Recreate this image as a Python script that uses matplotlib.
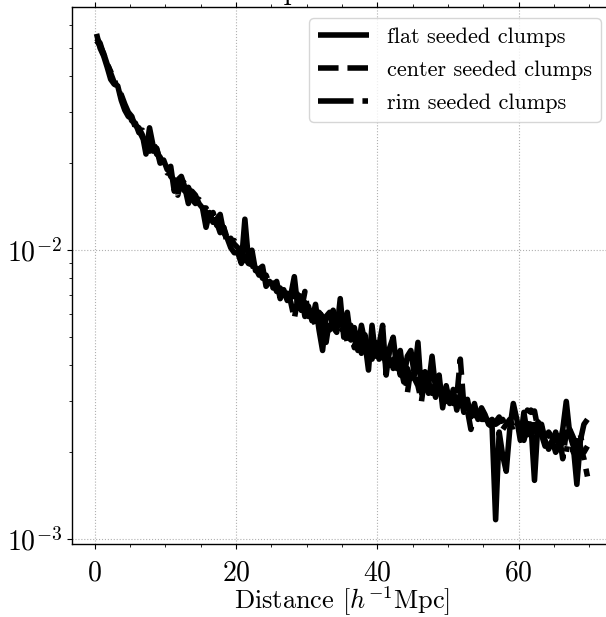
import numpy as np
import matplotlib
matplotlib.use("Agg")
import matplotlib.pyplot as plt

plt.rcParams['font.family'] = 'serif'
plt.rcParams['font.serif'] = ['cmr10', 'DejaVu Serif']
plt.rcParams['mathtext.fontset'] = 'cm'
plt.rcParams['axes.formatter.use_mathtext'] = True
plt.rcParams['font.size'] = 18
plt.rcParams['axes.linewidth'] = 1.0

# bin centres, 0.5 h^-1 Mpc bins from 0 to 70
distance = np.arange(0.25, 70.0, 0.5)

# values, in units of 1e-3
flat = np.array([
    56, 50, 47, 43, 39, 37.5, 37, 33, 30.5, 29,
    28.5, 27, 26.5, 25, 21.5, 26.5, 23, 22.5, 20, 20.5,
    19, 19.5, 16, 17.5, 18, 16.5, 14.5, 16, 15.5, 14.5,
    14, 12, 13.5, 12.5, 12.8, 13.3, 11.5, 11, 10.2, 9.8,
    9.8, 9.0, 12.8, 9.3, 10, 8.5, 8.6, 8.8, 7.5, 7.8,
    7.5, 7.8, 6.8, 7.3, 6.7, 7.0, 8.1, 6.3, 6.9, 5.9,
    6.4, 5.7, 6.5, 5.3, 4.5, 5.9, 6.1, 5.4, 5.2, 6.8,
    5.0, 6.1, 4.9, 5.4, 4.5, 5.5, 4.8, 3.85, 5.5, 4.3,
    4.7, 5.5, 3.7, 4.6, 5.0, 3.9, 4.5, 3.6, 4.3, 4.5,
    3.7, 4.8, 3.2, 3.8, 3.4, 4.3, 3.3, 3.7, 2.85, 3.4,
    2.95, 3.3, 2.8, 3.2, 2.75, 3.05, 2.65, 2.95, 2.6, 2.85,
    2.7, 2.5, 2.45, 1.17, 2.35, 1.95, 1.72, 2.4, 2.95, 2.6,
    2.2, 2.75, 2.3, 2.5, 1.6, 2.55, 2.45, 2.2, 2.05, 2.2,
    2.0, 2.1, 2.4, 3.0, 2.3, 2.1, 1.55, 2.2, 2.5, 2.6,
]) * 1e-3

center = np.array([
    54, 52, 47.5, 44.5, 41, 38, 36.5, 34, 31, 29.5,
    28, 27.5, 25.5, 26, 24, 22, 24, 21.5, 21, 19.5,
    19.5, 18, 17.5, 15.5, 17.5, 17, 16, 15, 14.5, 15,
    14.5, 13.5, 13, 13.5, 12.2, 12, 12, 10.5, 11, 10.5,
    10.2, 9.6, 9.2, 9.6, 9.0, 8.3, 8.6, 8.0, 8.2, 7.6,
    7.7, 7.2, 7.4, 6.9, 7.1, 6.6, 5.8, 6.8, 6.2, 7.2,
    5.9, 6.4, 5.7, 6.3, 5.5, 4.8, 5.8, 6.2, 5.4, 5.6,
    5.6, 4.8, 5.5, 4.6, 5.3, 4.4, 5.1, 4.4, 4.2, 4.8,
    4.2, 4.6, 4.0, 4.5, 3.9, 4.3, 3.7, 4.1, 3.2, 3.9,
    3.6, 3.4, 3.0, 3.7, 3.2, 3.5, 3.1, 3.5, 3.0, 3.3,
    3.1, 2.95, 3.1, 4.2, 2.9, 2.8, 2.4, 2.7, 2.75, 2.6,
    2.6, 2.7, 2.5, 2.55, 2.65, 2.4, 2.5, 2.6, 2.45, 2.55,
    2.5, 2.35, 2.8, 2.75, 2.78, 2.4, 2.3, 2.1, 2.35, 2.25,
    2.2, 2.3, 1.9, 2.35, 2.25, 2.0, 2.3, 2.1, 1.9, 1.65,
]) * 1e-3

rim = np.array([
    53, 51, 48, 44, 41.5, 39, 36, 34.5, 32, 30,
    29, 26.5, 26, 24.5, 25, 23, 22, 22.5, 20.5, 20,
    18.5, 18.5, 18.5, 17, 16.5, 16, 16.5, 15.5, 15, 14.5,
    14, 14, 13.2, 12.5, 12.5, 11.5, 12, 11, 10.5, 10.8,
    9.9, 9.8, 9.5, 9.0, 8.9, 8.7, 8.2, 8.3, 7.8, 7.9,
    7.4, 7.5, 7.0, 7.2, 6.8, 6.9, 6.6, 7.4, 6.2, 6.6,
    6.2, 6.0, 5.5, 6.1, 5.9, 5.4, 5.3, 5.9, 5.6, 5.2,
    5.4, 5.2, 4.9, 5.2, 4.7, 5.1, 4.5, 4.8, 4.3, 4.6,
    4.4, 4.1, 4.4, 4.0, 4.2, 3.8, 4.0, 3.5, 3.9, 3.6,
    3.8, 3.5, 3.7, 3.3, 3.5, 3.2, 3.4, 3.1, 3.3, 3.0,
    3.05, 3.0, 3.0, 2.9, 2.95, 2.85, 2.8, 2.75, 2.8, 2.7,
    2.65, 2.55, 2.6, 2.5, 2.55, 2.6, 2.45, 2.5, 2.4, 2.5,
    2.4, 2.2, 2.45, 2.8, 2.4, 2.3, 2.5, 2.2, 2.3, 2.15,
    2.35, 2.1, 2.2, 2.0, 2.4, 2.25, 2.05, 2.3, 2.0, 2.1,
]) * 1e-3

labels = ['flat seeded clumps', 'center seeded clumps', 'rim seeded clumps']

fig = plt.figure(figsize=(6.06, 6.17), dpi=100)
# the original picture is a crop: right spine and most of the title fall outside
ax = fig.add_axes([72 / 606, (617 - 544) / 617, (612 - 72) / 606, (544 - 7.3) / 617])

ax.plot(distance, flat, color='k', lw=4, ls='-', solid_capstyle='butt', label=labels[0])
ax.plot(distance, center, color='k', lw=4, ls='--', label=labels[1])
ax.plot(distance, rim, color='k', lw=4, ls='-.', label=labels[2])

ax.set_yscale('log')
ax.set_xlim(-3.225, 73.225)
ax.set_ylim(10 ** -3.016, 10 ** -1.160)
ax.set_xticks([0, 20, 40, 60])
ax.set_xticks(np.arange(0, 75, 5), minor=True)
ax.tick_params(which='both', direction='out', top=True, right=True, labelsize=20)
ax.tick_params(axis='x', which='major', pad=8.5)
ax.grid(True, which='major', ls=':', color='#b0b0b0', lw=0.8)

ax.set_xlabel(r'Distance [$h^{-1}$Mpc]', fontsize=19, labelpad=-1.5)
ax.set_title('Radial pair distances', pad=6, x=0.47)
ax.legend(loc='upper right', fontsize=16, handlelength=2.3, labelspacing=0.6)

fig.savefig('out.png', dpi=100)
